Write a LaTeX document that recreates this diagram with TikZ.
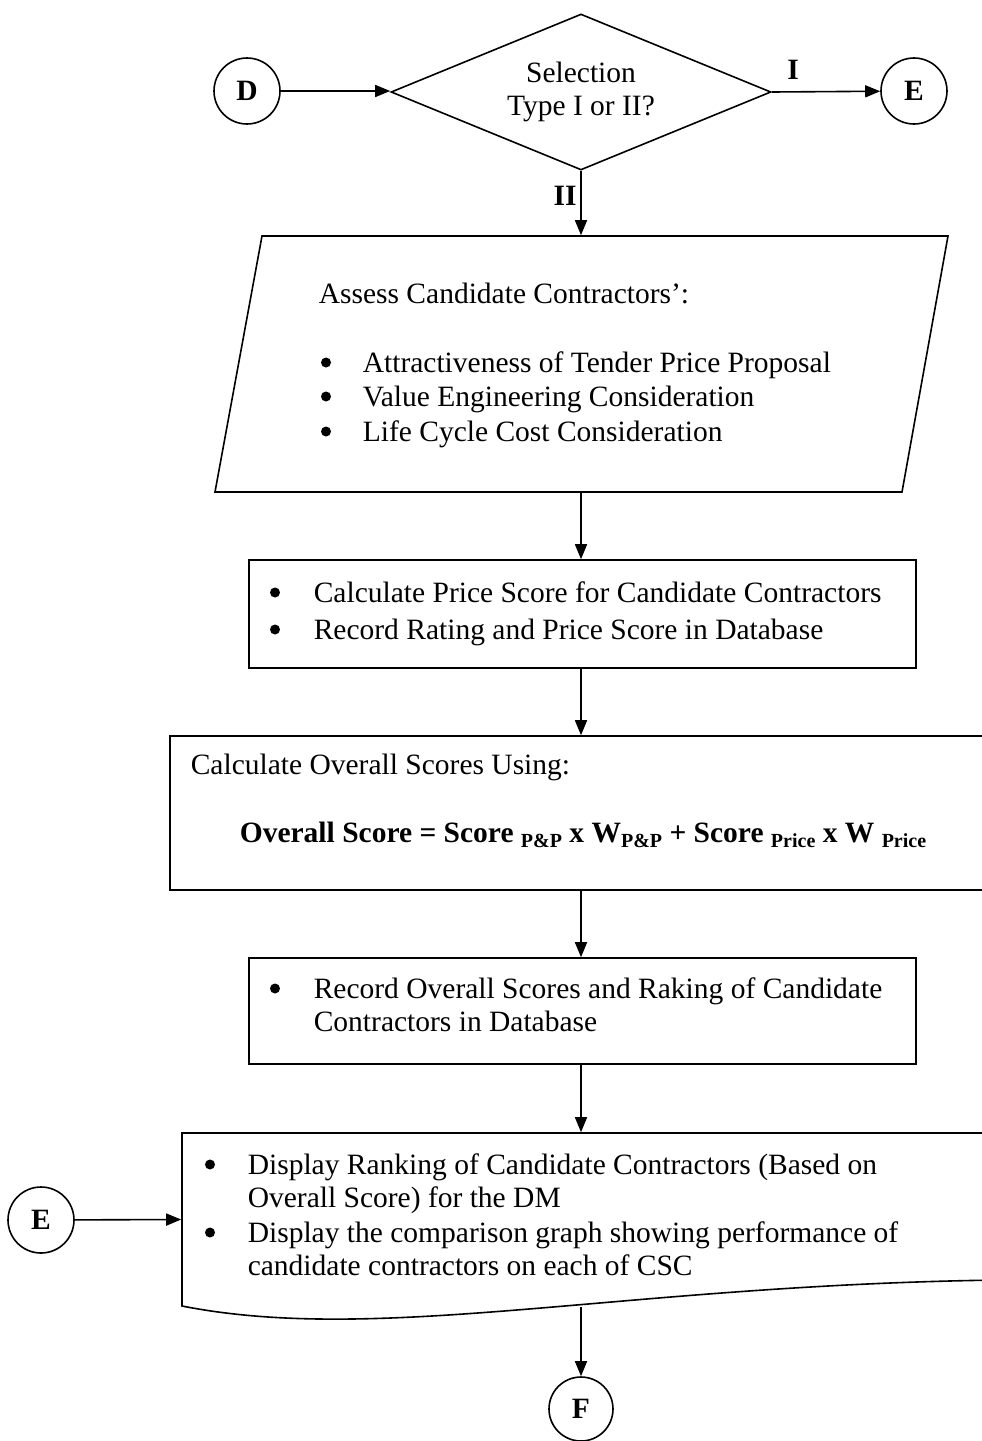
\documentclass[tikz,border=0pt]{standalone}
\usepackage{fontspec}
\setmainfont{Liberation Serif}
\usetikzlibrary{arrows.meta,shapes.geometric}
% lowered, smaller subscript used in the score formula
\newcommand\lowsub[1]{\raisebox{-5pt}{\fontsize{20}{20}\selectfont #1}}

\begin{document}
\begin{tikzpicture}[x=1pt,y=-1pt,
  line width=1.6pt,
  body/.style={font=\fontsize{29.5}{35}\selectfont},
  txt/.style={body, inner sep=0pt, anchor=base west},
  bul/.style={circle, fill, minimum size=10pt, inner sep=0pt, yshift=9.5pt},
  conn/.style={circle, draw, minimum size=66pt, inner sep=0pt,
               font=\fontsize{29.5}{35}\selectfont\bfseries},
  arr/.style={-{Triangle[length=15pt,width=12pt]}},
  box/.style={draw, inner sep=0pt},
  hidden/.style={inner sep=0pt},
  lbl/.style={font=\fontsize{29.5}{35}\selectfont\bfseries, inner sep=0pt}
]
\useasboundingbox (0,0) rectangle (982,1441);
\clip (0,0) rectangle (982,1441);

% ---- decision on the selection type ----
\node[conn] (D) at (247,91) {D};
\node[diamond, draw, aspect=2.44, minimum width=380pt, minimum height=156pt,
      inner sep=0pt, align=center, body] (sel) at (581,92)
      {Selection\\[-2pt]Type I or II?};
\node[conn] (E1) at (914,91) {E};
\draw[arr] (D) -- (D -| sel.west);
\draw[arr] (sel.east) -- (E1);
\node[lbl] (lblI) at (793,70) {I};

% ---- assessment (parallelogram) ----
\node[hidden, minimum width=640pt, minimum height=256pt] (assess) at (581,364) {};
\draw (215,492) -- (262,236) -- (948,236) -- (902,492) -- cycle;
\draw[arr] (sel.south) -- (assess.north);
\node[lbl] (lblII) at (565,196) {II};
\node[txt] (as0) at (318,303) {Assess Candidate Contractors’:};
\node[bul] (ab1) at (326,372) {};
\node[txt] (as1) at (362,372) {Attractiveness of Tender Price Proposal};
\node[bul] (ab2) at (326,406) {};
\node[txt] (as2) at (362,406) {Value Engineering Consideration};
\node[bul] (ab3) at (326,441) {};
\node[txt] (as3) at (362,441) {Life Cycle Cost Consideration};

% ---- price score ----
\node[box, minimum width=667pt, minimum height=108pt] (price) at (582.5,614) {};
\draw[arr] (assess.south) -- (assess.south |- price.north);
\node[bul] (pb1) at (275,602) {};
\node[txt] (pr1) at (313,602) {Calculate Price Score for Candidate Contractors};
\node[bul] (pb2) at (275,639) {};
\node[txt] (pr2) at (313,639) {Record Rating and Price Score in Database};

% ---- overall score ----
\node[box, minimum width=830pt, minimum height=154pt] (overall) at (585,813) {};
\draw[arr] (assess.south |- price.south) -- (assess.south |- overall.north);
\node[txt] (ov1) at (190,774) {Calculate Overall Scores Using:};
\node[inner sep=0pt, anchor=base, font=\fontsize{29.5}{35}\selectfont\bfseries] (formula) at (583,842)
  {Overall Score = Score \lowsub{P\&P} x W\lowsub{P\&P} + Score \lowsub{Price} x W \lowsub{Price}};

% ---- record overall scores ----
\node[box, minimum width=667pt, minimum height=106pt] (record) at (582.5,1011) {};
\draw[arr] (assess.south |- overall.south) -- (assess.south |- record.north);
\node[bul] (rb1) at (275,998) {};
\node[txt] (re1) at (313,998) {Record Overall Scores and Raking of Candidate};
\node[txt] (re2) at (313,1031) {Contractors in Database};

% ---- display (document shape) ----
\node[hidden, minimum width=818pt, minimum height=173pt] (display) at (591,1219.5) {};
\draw (1000,1133) -- (182,1133) -- (182,1306)
      .. controls (380,1345) and (620,1285) .. (1000,1280);
\draw[arr] (assess.south |- record.south) -- (assess.south |- display.north);
\node[bul] (db1) at (210,1174) {};
\node[txt] (di1) at (247,1174) {Display Ranking of Candidate Contractors (Based on};
\node[txt] (di2) at (247,1207) {Overall Score) for the DM};
\node[bul] (db2) at (210,1242) {};
\node[txt] (di3) at (247,1242) {Display the comparison graph showing performance of};
\node[txt] (di4) at (247,1275) {candidate contractors on each of CSC};

\node[conn] (E2) at (41,1220) {E};
\draw[arr] (E2) -- (display.west);

\node[conn, minimum size=64pt] (F) at (581,1409) {F};
\coordinate (docbot) at (581,1307);
\draw[arr] (docbot) -- (F);
\end{tikzpicture}
\end{document}
